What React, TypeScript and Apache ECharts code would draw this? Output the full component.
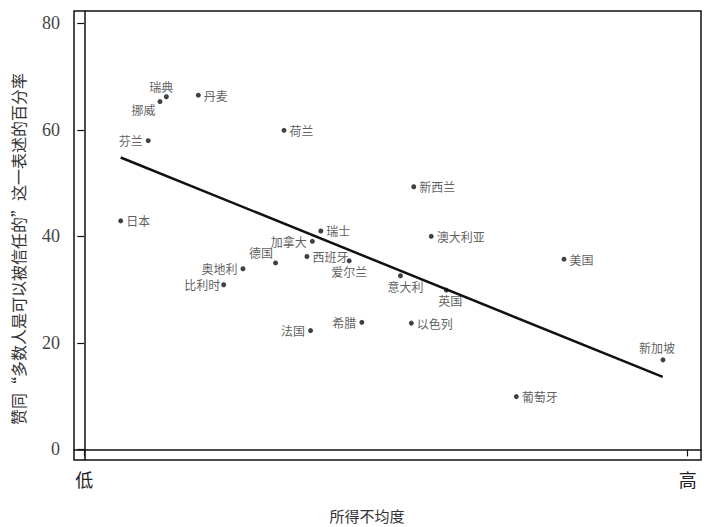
import React, { useEffect, useRef } from "react";
import * as echarts from "echarts";

// ---- data ----
const countries = [
  "瑞典", "挪威", "丹麦", "荷兰", "芬兰", "日本", "瑞士", "加拿大", "西班牙",
  "德国", "奥地利", "比利时", "爱尔兰", "法国", "希腊", "新西兰", "澳大利亚",
  "美国", "意大利", "英国", "以色列", "新加坡", "葡萄牙",
];
const inequality = [
  13.6, 12.55, 18.9, 33.1, 10.6, 6.04, 39.2, 37.8, 36.9,
  31.7, 26.3, 23.1, 43.9, 37.5, 46.0, 54.6, 57.5,
  79.5, 52.4, 60.0, 54.2, 95.9, 71.6,
];
const trustShare = [
  66.2, 65.3, 66.5, 59.9, 57.95, 42.9, 41.0, 39.06, 36.2,
  35.0, 33.9, 30.9, 35.4, 22.3, 23.85, 49.3, 40.0,
  35.7, 32.6, 29.9, 23.7, 16.8, 9.9,
];
const trendX = [6.04, 95.85];
const trendY = [54.8, 13.6];
const yTicks = [0, 20, 40, 60, 80];
const xTicks = [0, 100];
const xTickLabels = ["低", "高"];

// ---- label placement (style) ----
const placement: Record<string, { position: string; offset?: number[]; distance?: number }> = {
  "瑞典": { position: "top", offset: [-5, 1], distance: 3 },
  "挪威": { position: "left", offset: [0, 8], distance: 2 },
  "芬兰": { position: "left" },
  "加拿大": { position: "left" },
  "德国": { position: "left", offset: [2, -10], distance: 2 },
  "奥地利": { position: "left" },
  "比利时": { position: "left", distance: 1 },
  "爱尔兰": { position: "bottom", distance: 2 },
  "法国": { position: "left" },
  "希腊": { position: "left" },
  "意大利": { position: "bottom", offset: [5, 0], distance: 2 },
  "英国": { position: "bottom", offset: [4, 0], distance: 2 },
  "新加坡": { position: "top", offset: [-6, 0], distance: 4 },
};

const CJK = "Noto Sans CJK SC";
const SERIF = "Liberation Serif";

export default function App() {
  const ref = useRef<HTMLDivElement>(null);
  useEffect(() => {
    if (!ref.current) return;
    const chart = echarts.init(ref.current, undefined, { renderer: "svg" });
    const points = countries.map((name, i) => {
      const p = placement[name] || { position: "right" };
      return {
        name,
        value: [inequality[i], trustShare[i]],
        label: {
          show: true,
          formatter: name,
          position: p.position,
          offset: p.offset || [0, 0],
          distance: p.distance ?? 3,
        },
      };
    });
    chart.setOption({
      animation: false,
      backgroundColor: "#ffffff",
      grid: {
        left: 74,
        top: 11,
        right: 8,
        bottom: 67,
        show: true,
        borderColor: "#111",
        borderWidth: 1.5,
        backgroundColor: "transparent",
      },
      xAxis: {
        type: "value",
        min: -1.7,
        max: 102.2,
        splitLine: { show: false },
        axisLine: { show: true, lineStyle: { color: "#111", width: 1.5 } },
        axisTick: {
          show: true,
          length: 7,
          customValues: xTicks,
          lineStyle: { color: "#111", width: 1.2 },
        },
        axisLabel: {
          customValues: xTicks,
          margin: 10,
          fontFamily: CJK,
          fontSize: 18,
          color: "#222",
          formatter: (v: number) => xTickLabels[xTicks.indexOf(v)] ?? "",
        },
      },
      yAxis: {
        type: "value",
        min: -2.0,
        max: 82.3,
        splitLine: { show: false },
        axisLine: { show: true, lineStyle: { color: "#111", width: 1.5 } },
        axisTick: {
          show: true,
          length: 7,
          customValues: yTicks,
          lineStyle: { color: "#111", width: 1.2 },
        },
        axisLabel: {
          customValues: yTicks,
          margin: 14,
          fontFamily: SERIF,
          fontSize: 18,
          color: "#444",
        },
      },
      graphic: [
        {
          type: "text",
          x: 18,
          y: 249,
          rotation: Math.PI / 2,
          style: {
            text: "赞同“多数人是可以被信任的”这一表述的百分率",
            fontFamily: CJK,
            fontSize: 16,
            fill: "#333",
            textAlign: "center",
            textVerticalAlign: "middle",
          },
        },
        {
          type: "text",
          x: 367,
          y: 515,
          style: {
            text: "所得不均度",
            fontFamily: CJK,
            fontSize: 15,
            fill: "#333",
            textAlign: "center",
            textVerticalAlign: "middle",
          },
        },
      ],
      series: [
        {
          type: "line",
          data: trendX.map((x, i) => [x, trendY[i]]),
          showSymbol: false,
          symbol: "none",
          lineStyle: { color: "#111", width: 2.5 },
          z: 2,
        },
        {
          type: "scatter",
          data: points,
          symbol: "circle",
          symbolSize: 5,
          itemStyle: { color: "#111" },
          label: {
            fontFamily: CJK,
            fontSize: 12,
            color: "#333",
          },
          z: 3,
        },
      ],
    });
    return () => chart.dispose();
  }, []);
  return <div ref={ref} style={{ width: 709, height: 527, position: "absolute", left: 0, top: 0 }} />;
}
